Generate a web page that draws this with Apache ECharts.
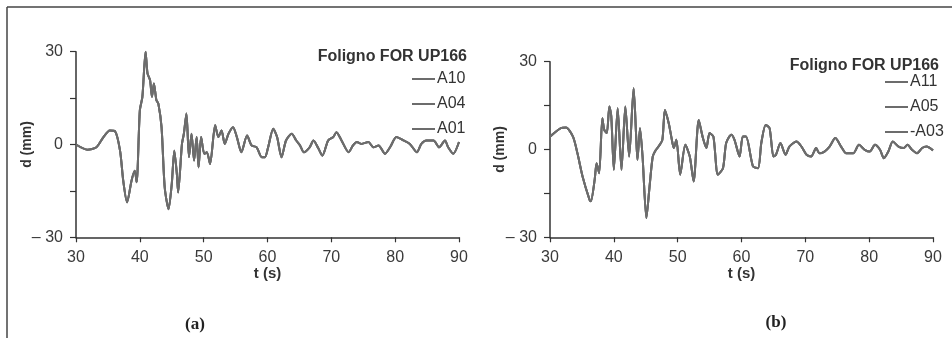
<!DOCTYPE html>
<html><head><meta charset="utf-8">
<script src="https://cdn.jsdelivr.net/npm/echarts@6/dist/echarts.min.js"></script>
<style>html,body{margin:0;padding:0;background:#fff}#c{width:952px;height:338px}</style>
</head><body><div id="c"></div>
<script>
// Panel (a)
const timeA = [30,31.8,33.2,34.3,35.3,36.1,36.9,37.4,38.0,38.7,39.2,39.5,40.0,40.4,40.9,41.2,41.6,41.9,42.2,42.6,42.9,43.4,43.9,44.5,45.0,45.4,45.8,46.0,46.6,46.9,47.3,47.7,48.1,48.5,48.9,49.2,49.6,50.1,50.5,51.0,51.8,52.3,52.8,53.3,53.9,54.6,55.2,55.9,56.8,57.5,58.3,59.1,59.6,60.1,60.9,61.5,62.2,62.9,63.8,64.5,65.1,65.7,66.6,67.2,68.0,68.6,69.5,70.3,70.8,71.6,72.7,73.4,74.0,74.7,75.8,76.6,77.4,78.4,79.2,80.2,81.3,82.3,83.4,84.1,84.9,86.0,86.9,87.8,88.3,89.1,90];
const dispA = [0,-1.7,-0.9,2.4,4.5,4.3,-2,-11.7,-18.7,-11.7,-8.5,-12.2,11,15.4,30,23,20.8,15.4,19.7,14.3,13.2,5.6,-13.9,-20.9,-12.8,-2,-9.5,-15.5,0.2,3.5,10,-4.1,3.5,-5.2,2.4,-7.4,2.4,-3,-2.5,-6.3,6.2,2.4,4.5,0.2,3.5,5.6,2.4,-2.5,2.9,-0.3,-0.9,-4.1,-4.1,-0.9,5.1,2.4,-4.1,1.3,3.5,1.3,-0.3,-2.5,-0.9,1.3,-1.4,-3.6,1.3,2.4,4.0,1.3,-2.5,-0.3,0.8,0.2,0.8,-0.9,-0.3,-3,-0.9,2.4,1.3,0.2,-2.5,0.2,1.3,1.3,-0.9,1.3,-0.9,-3,0.8];
const namesA = ['A10','A04','A01'];
// Panel (b)
const timeB = [30,31.7,32.5,33.6,34.3,35.1,36.2,36.4,37.0,37.3,37.7,38.2,38.5,38.9,39.3,39.6,40.0,40.6,41.2,41.8,42.4,43.1,43.5,43.7,44.1,44.5,45.1,45.6,46.1,46.6,47.0,47.6,48.0,48.6,49.0,49.4,49.8,50.4,51.2,51.9,52.5,53.3,53.9,54.5,55.0,55.6,56.3,57.1,57.6,58.4,58.9,59.7,60.2,60.7,61.8,62.6,63.1,63.8,64.4,65.0,65.4,66.1,66.9,67.5,68.6,69.4,70.2,70.9,71.7,72.2,73.0,73.8,74.7,75.6,76.4,77.5,78.4,79.3,80.1,80.9,81.7,82.3,83.0,83.7,84.6,85.4,86.0,86.7,87.5,88.3,89.0,90];
const dispB = [4.4,7.3,7.5,4.4,-1.3,-9.2,-17.2,-17.7,-10.3,-4.7,-8.1,10.7,6.7,5.6,14.7,11.3,-6.9,14.1,-6.9,14.7,-2.4,20.9,4.4,-3.5,7.3,-2.4,-23.4,-12.6,-2.4,-0.1,1,3.3,13.5,9,4.4,0.5,3.3,-8.6,1.6,-2.4,-10.9,10.1,4.4,0.5,5.6,4.4,-8.6,-6.4,2.2,5,3.3,-2.4,4.4,4.4,-5.8,-6.4,2.2,8.4,7.3,-2.4,-1.8,2.2,-1.8,1,2.7,1,-1.8,-2.4,0.5,-1.3,-0.7,1,3.9,1,-1.3,-1.3,1.6,-0.1,-0.7,1.6,-0.1,-3,-0.7,2.7,1,0.5,1.6,-0.1,-1.3,0.5,1,-0.3];
const namesB = ['A11','A05','-A03'];
const xTicks = {min: 30, max: 90, interval: 10};
const yTicks = {min: -30, max: 30, interval: 15, labelled: [30, 0, -30]};
const title = 'Foligno FOR UP166';
const panelLabels = ['(a)', '(b)'];

const LINE = '#6c6c6c', AX = '#333';
const pairsA = timeA.map((t, i) => [t, dispA[i]]);
const pairsB = timeB.map((t, i) => [t, dispB[i]]);

function xAxis(gi) {
  return {
    type: 'value', gridIndex: gi, min: xTicks.min, max: xTicks.max, interval: xTicks.interval,
    name: 't (s)', nameLocation: 'middle', nameGap: 29, nameMoveOverlap: false,
    nameTextStyle: {fontFamily: 'Liberation Sans', fontWeight: 'bold', fontSize: 15, color: '#333'},
    axisLine: {show: true, onZero: false, lineStyle: {color: AX, width: 1.5}},
    axisTick: {show: true, length: 5, lineStyle: {color: AX, width: 1.2}},
    axisLabel: {margin: 12, fontFamily: 'Liberation Sans', fontSize: 16, color: '#3a3a3a'},
    splitLine: {show: false}
  };
}
function yAxis(gi, gap) {
  return {
    type: 'value', gridIndex: gi, min: yTicks.min, max: yTicks.max, interval: yTicks.interval,
    name: 'd (mm)', nameLocation: 'middle', nameGap: gap, nameRotate: 90, nameMoveOverlap: false,
    nameTextStyle: {fontFamily: 'Liberation Sans', fontWeight: 'bold', fontSize: 14, color: '#333'},
    axisLine: {show: true, onZero: false, lineStyle: {color: AX, width: 1.5}},
    axisTick: {show: true, length: 6, lineStyle: {color: AX, width: 1.2}},
    axisLabel: {margin: 13, fontFamily: 'Liberation Sans', fontSize: 16, color: '#3a3a3a',
      formatter: v => yTicks.labelled.includes(v) ? (v < 0 ? '\u2013 ' + Math.abs(v) : String(v)) : ''},
    splitLine: {show: false}
  };
}
function series(names, data, gi) {
  return names.map(n => ({
    name: n, type: 'line', xAxisIndex: gi, yAxisIndex: gi, data: data,
    showSymbol: false, symbol: 'none', smooth: 0.25,
    lineStyle: {color: LINE, width: 2}, itemStyle: {color: LINE}
  }));
}
function legend(names, left, top) {
  return {
    data: names, orient: 'vertical', left: left, top: top, align: 'left',
    icon: 'rect', itemWidth: 23, itemHeight: 2, itemGap: 9, selectedMode: false,
    textStyle: {fontFamily: 'Liberation Sans', fontSize: 16, color: '#333', lineHeight: 16, padding: [0, 0, 0, -3]}
  };
}

const chart = echarts.init(document.getElementById('c'), null, {renderer: 'canvas'});
chart.setOption({
  animation: false,
  backgroundColor: '#fff',
  title: [
    {text: title, right: 480, top: 44, textStyle: {fontFamily: 'Liberation Sans', fontWeight: 'bold', fontSize: 16, color: '#333'}},
    {text: title, right: 8, top: 53, textStyle: {fontFamily: 'Liberation Sans', fontWeight: 'bold', fontSize: 16, color: '#333'}},
    {text: panelLabels[0], left: 190, top: 311, textAlign: 'center', textStyle: {fontFamily: 'Liberation Serif', fontWeight: 'bold', fontSize: 17, color: '#222'}},
    {text: panelLabels[1], left: 771, top: 309, textAlign: 'center', textStyle: {fontFamily: 'Liberation Serif', fontWeight: 'bold', fontSize: 17, color: '#222'}}
  ],
  grid: [
    {left: 76, right: 493, top: 51.7, bottom: 100.7, containLabel: false},
    {left: 550, right: 19, top: 61.7, bottom: 100.7, containLabel: false}
  ],
  xAxis: [xAxis(0), xAxis(1)],
  yAxis: [yAxis(0, 42), yAxis(1, 43)],
  legend: [legend(namesA, 407, 66), legend(namesB, 880, 69)],
  series: [...series(namesA, pairsA, 0), ...series(namesB, pairsB, 1)],
  graphic: [
    {type: 'line', shape: {x1: 7, y1: 7, x2: 952, y2: 7}, style: {stroke: '#444', lineWidth: 1.5}},
    {type: 'line', shape: {x1: 7, y1: 7, x2: 7, y2: 338}, style: {stroke: '#444', lineWidth: 1.5}}
  ]
});
</script></body></html>
